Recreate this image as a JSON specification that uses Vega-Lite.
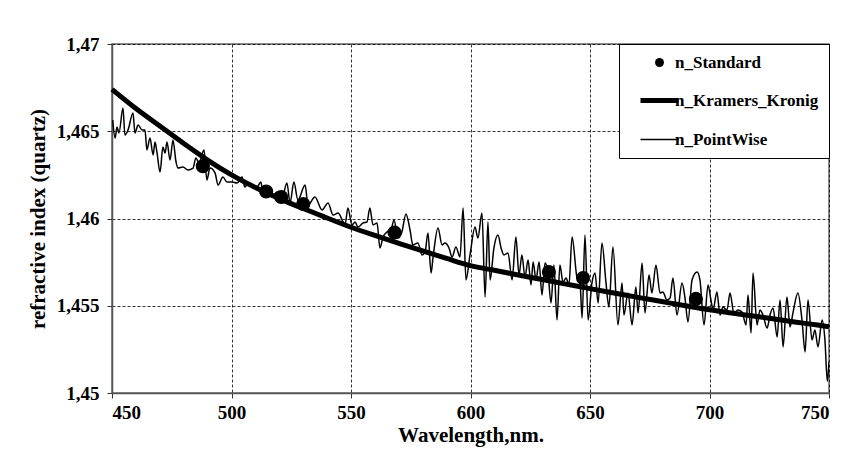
{
  "$schema": "https://vega.github.io/schema/vega-lite/v6.json",
  "width": 717,
  "height": 349,
  "autosize": {"type": "none"},
  "padding": {"left": 112, "top": 44, "right": 16, "bottom": 63},
  "background": "white",
  "config": {
    "view": {"stroke": "#666", "strokeWidth": 1.5},
    "axis": {
      "domainColor": "#555", "domainWidth": 1.5, "tickColor": "#333", "tickSize": 5, "tickWidth": 1,
      "gridColor": "#000", "gridDash": [3, 2], "gridWidth": 0.8, "gridOpacity": 1,
      "labelFont": "Liberation Serif", "labelFontSize": 19, "labelFontWeight": "bold", "labelColor": "black",
      "titleFont": "Liberation Serif", "titleFontSize": 21, "titleFontWeight": "bold", "titleColor": "black"
    }
  },
  "datasets": {
    "pw": [
      {"wl":450.3,"n":1.46564},{"wl":451.3,"n":1.46461},{"wl":452.1,"n":1.46524},{"wl":452.9,"n":1.4649},{"wl":454.6,"n":1.46633},{"wl":455.4,"n":1.46478},{"wl":456.7,"n":1.46507},{"wl":458.8,"n":1.46605},{"wl":459.6,"n":1.4649},{"wl":460.9,"n":1.46536},{"wl":462.6,"n":1.46507},{"wl":463.8,"n":1.46507},{"wl":464.6,"n":1.46393},{"wl":465.9,"n":1.46461},{"wl":467.2,"n":1.46364},{"wl":468.0,"n":1.46438},{"wl":468.8,"n":1.46381},{"wl":470.1,"n":1.46266},{"wl":471.3,"n":1.4641},{"wl":472.2,"n":1.46375},{"wl":473.0,"n":1.46438},{"wl":474.3,"n":1.46335},{"wl":475.5,"n":1.4645},{"wl":476.8,"n":1.46324},{"wl":477.6,"n":1.46289},{"wl":479.7,"n":1.46295},{"wl":481.8,"n":1.46278},{"wl":483.9,"n":1.46289},{"wl":485.1,"n":1.46347},{"wl":486.4,"n":1.46318},{"wl":488.5,"n":1.46393},{"wl":489.7,"n":1.46221},{"wl":491.0,"n":1.46289},{"wl":493.1,"n":1.46261},{"wl":494.4,"n":1.46192},{"wl":496.4,"n":1.46238},{"wl":498.1,"n":1.46209},{"wl":500.2,"n":1.46209},{"wl":502.3,"n":1.46203},{"wl":504.4,"n":1.46238},{"wl":505.6,"n":1.4618},{"wl":506.9,"n":1.46203},{"wl":509.0,"n":1.46175},{"wl":510.7,"n":1.4618},{"wl":512.3,"n":1.46209},{"wl":513.2,"n":1.46135},{"wl":514.9,"n":1.4618},{"wl":516.9,"n":1.46123},{"wl":519.0,"n":1.46152},{"wl":521.1,"n":1.46117},{"wl":523.2,"n":1.46203},{"wl":524.5,"n":1.46089},{"wl":526.1,"n":1.46209},{"wl":527.8,"n":1.46106},{"wl":530.8,"n":1.46192},{"wl":532.0,"n":1.46077},{"wl":534.9,"n":1.46123},{"wl":537.9,"n":1.46049},{"wl":540.4,"n":1.46089},{"wl":542.5,"n":1.4602},{"wl":544.6,"n":1.46031},{"wl":546.7,"n":1.4598},{"wl":547.5,"n":1.45963},{"wl":548.7,"n":1.4606},{"wl":550.4,"n":1.45963},{"wl":551.7,"n":1.4598},{"wl":552.9,"n":1.45951},{"wl":555.0,"n":1.45974},{"wl":556.7,"n":1.4598},{"wl":557.9,"n":1.4606},{"wl":559.2,"n":1.45963},{"wl":560.9,"n":1.45974},{"wl":562.1,"n":1.45831},{"wl":563.4,"n":1.45894},{"wl":565.1,"n":1.45923},{"wl":566.7,"n":1.45934},{"wl":568.0,"n":1.45991},{"wl":569.7,"n":1.45888},{"wl":571.3,"n":1.45923},{"wl":573.0,"n":1.46026},{"wl":574.7,"n":1.45934},{"wl":575.9,"n":1.45848},{"wl":578.0,"n":1.4586},{"wl":579.7,"n":1.45791},{"wl":581.0,"n":1.45808},{"wl":582.2,"n":1.45917},{"wl":583.5,"n":1.45688},{"wl":584.3,"n":1.45774},{"wl":586.4,"n":1.45946},{"wl":588.1,"n":1.45848},{"wl":589.3,"n":1.4586},{"wl":591.0,"n":1.45831},{"wl":592.3,"n":1.45779},{"wl":593.9,"n":1.45837},{"wl":595.6,"n":1.45779},{"wl":596.9,"n":1.4606},{"wl":598.1,"n":1.45648},{"wl":599.8,"n":1.45791},{"wl":601.9,"n":1.45951},{"wl":603.1,"n":1.45888},{"wl":604.8,"n":1.46031},{"wl":606.1,"n":1.4555},{"wl":607.3,"n":1.4598},{"wl":608.2,"n":1.45648},{"wl":609.8,"n":1.45831},{"wl":611.5,"n":1.45905},{"wl":612.8,"n":1.45831},{"wl":614.0,"n":1.45791},{"wl":615.7,"n":1.45802},{"wl":617.4,"n":1.45648},{"wl":619.0,"n":1.45894},{"wl":620.3,"n":1.45676},{"wl":621.5,"n":1.45791},{"wl":622.8,"n":1.45665},{"wl":624.1,"n":1.45762},{"wl":625.3,"n":1.45619},{"wl":626.2,"n":1.45751},{"wl":627.4,"n":1.45648},{"wl":628.7,"n":1.45751},{"wl":629.9,"n":1.45562},{"wl":631.2,"n":1.45745},{"wl":632.4,"n":1.45693},{"wl":633.7,"n":1.45516},{"wl":634.9,"n":1.45733},{"wl":636.2,"n":1.45418},{"wl":637.4,"n":1.45733},{"wl":638.7,"n":1.45636},{"wl":640.0,"n":1.45659},{"wl":641.2,"n":1.45619},{"wl":642.5,"n":1.45894},{"wl":644.6,"n":1.45659},{"wl":645.8,"n":1.45636},{"wl":646.7,"n":1.4543},{"wl":647.9,"n":1.45905},{"wl":649.2,"n":1.45418},{"wl":650.8,"n":1.4563},{"wl":652.1,"n":1.45688},{"wl":653.4,"n":1.45516},{"wl":655.0,"n":1.4586},{"wl":656.7,"n":1.4563},{"wl":657.9,"n":1.45493},{"wl":659.6,"n":1.45837},{"wl":661.7,"n":1.4539},{"wl":663.4,"n":1.4563},{"wl":664.2,"n":1.45447},{"wl":665.9,"n":1.45573},{"wl":667.6,"n":1.4539},{"wl":669.2,"n":1.45607},{"wl":670.1,"n":1.45458},{"wl":671.8,"n":1.45745},{"wl":673.0,"n":1.45458},{"wl":674.7,"n":1.45676},{"wl":675.9,"n":1.45573},{"wl":677.6,"n":1.45733},{"wl":679.3,"n":1.45573},{"wl":680.5,"n":1.45579},{"wl":682.2,"n":1.45533},{"wl":683.5,"n":1.45544},{"wl":684.7,"n":1.45659},{"wl":686.4,"n":1.45447},{"wl":688.5,"n":1.4563},{"wl":689.7,"n":1.4555},{"wl":691.0,"n":1.45407},{"wl":692.7,"n":1.45648},{"wl":694.8,"n":1.45693},{"wl":696.0,"n":1.45648},{"wl":697.7,"n":1.4539},{"wl":699.4,"n":1.45619},{"wl":700.6,"n":1.45533},{"wl":701.5,"n":1.45476},{"wl":703.1,"n":1.45579},{"wl":704.4,"n":1.45447},{"wl":705.6,"n":1.45493},{"wl":707.3,"n":1.45476},{"wl":708.6,"n":1.45573},{"wl":710.2,"n":1.45458},{"wl":711.9,"n":1.45476},{"wl":713.6,"n":1.45464},{"wl":715.3,"n":1.4539},{"wl":716.1,"n":1.45562},{"wl":717.4,"n":1.45344},{"wl":718.2,"n":1.45688},{"wl":719.9,"n":1.4539},{"wl":721.1,"n":1.45476},{"wl":722.4,"n":1.45447},{"wl":724.1,"n":1.45372},{"wl":725.3,"n":1.45447},{"wl":726.6,"n":1.45487},{"wl":728.3,"n":1.45321},{"wl":729.5,"n":1.45533},{"wl":730.8,"n":1.45264},{"wl":732.4,"n":1.4555},{"wl":733.7,"n":1.45378},{"wl":734.9,"n":1.45458},{"wl":737.0,"n":1.45573},{"wl":738.7,"n":1.45418},{"wl":740.0,"n":1.45235},{"wl":741.2,"n":1.45533},{"wl":742.9,"n":1.45304},{"wl":744.1,"n":1.45361},{"wl":745.4,"n":1.45264},{"wl":747.1,"n":1.45418},{"wl":748.3,"n":1.45304},{"wl":749.3,"n":1.45068},{"wl":750.0,"n":1.4518}
    ],
    "kk": [
      {"wl":450,"n":1.4674},{"wl":460,"n":1.4663},{"wl":470,"n":1.4653},{"wl":480,"n":1.4643},{"wl":490,"n":1.46335},{"wl":500,"n":1.4625},{"wl":510,"n":1.46177},{"wl":520,"n":1.46114},{"wl":530,"n":1.46057},{"wl":540,"n":1.46003},{"wl":550,"n":1.4595},{"wl":560,"n":1.45903},{"wl":570,"n":1.45858},{"wl":580,"n":1.45814},{"wl":590,"n":1.45771},{"wl":600,"n":1.4573},{"wl":610,"n":1.45703},{"wl":620,"n":1.45676},{"wl":630,"n":1.4565},{"wl":640,"n":1.45624},{"wl":650,"n":1.45598},{"wl":660,"n":1.45573},{"wl":670,"n":1.45548},{"wl":680,"n":1.45524},{"wl":690,"n":1.455},{"wl":700,"n":1.45477},{"wl":710,"n":1.45457},{"wl":720,"n":1.45438},{"wl":730,"n":1.45418},{"wl":740,"n":1.45399},{"wl":750,"n":1.4538}
    ],
    "std": [
      {"wl":488.0,"n":1.463},{"wl":514.5,"n":1.46155},{"wl":520.8,"n":1.46123},{"wl":530.0,"n":1.46083},{"wl":568.2,"n":1.4592},{"wl":632.8,"n":1.45693},{"wl":647.1,"n":1.45659},{"wl":694.3,"n":1.45539}
    ]
  },
  "encoding": {
    "x": {
      "field": "wl", "type": "quantitative",
      "scale": {"domain": [450, 750], "nice": false, "zero": false},
      "axis": {"values": [450, 500, 550, 600, 650, 700, 750], "title": "Wavelength,nm.", "labelPadding": 5, "titlePadding": 2, "format": "d"}
    },
    "y": {
      "field": "n", "type": "quantitative",
      "scale": {"domain": [1.45, 1.47], "nice": false, "zero": false},
      "axis": {"values": [1.45, 1.455, 1.46, 1.465, 1.47], "title": "refractive index (quartz)", "labelPadding": 8, "titlePadding": 8,
               "labelExpr": "replace(format(datum.value, '.3~f'), '.', ',')"}
    },
    "color": {
      "field": "s", "type": "nominal",
      "scale": {"domain": ["n_Standard", "n_Kramers_Kronig", "n_PointWise"], "range": ["black", "black", "black"]},
      "legend": {
        "title": null, "orient": "top-right", "offset": 0,
        "strokeColor": "black", "fillColor": "white", "padding": 10,
        "symbolSize": 1444, "symbolOffset": 22, "labelOffset": 7, "rowPadding": 19,
        "labelFont": "Liberation Serif", "labelFontSize": 17, "labelFontWeight": "bold", "labelColor": "black", "labelLimit": 300,
        "labelExpr": "datum.label + '  '",
        "encode": {"symbols": {"update": {
          "shape": {"signal": "datum.value === 'n_Standard' ? 'circle' : 'M-1,0H1'"},
          "size": {"signal": "datum.value === 'n_Standard' ? 80 : 1444"},
          "strokeWidth": {"signal": "datum.value === 'n_Kramers_Kronig' ? 5 : (datum.value === 'n_PointWise' ? 1.5 : 0)"},
          "fill": {"signal": "datum.value === 'n_Standard' ? 'black' : 'transparent'"},
          "stroke": {"value": "black"},
          "opacity": {"value": 1}
        }}}
      }
    }
  },
  "layer": [
    {
      "data": {"name": "pw"},
      "transform": [{"calculate": "'n_PointWise'", "as": "s"}],
      "mark": {"type": "line", "strokeWidth": 1.5, "interpolate": "monotone", "clip": true}
    },
    {
      "data": {"name": "kk"},
      "transform": [{"calculate": "'n_Kramers_Kronig'", "as": "s"}],
      "mark": {"type": "line", "strokeWidth": 5, "interpolate": "monotone"}
    },
    {
      "data": {"name": "std"},
      "transform": [{"calculate": "'n_Standard'", "as": "s"}],
      "mark": {"type": "point", "filled": true, "size": 200, "opacity": 1}
    }
  ]
}
